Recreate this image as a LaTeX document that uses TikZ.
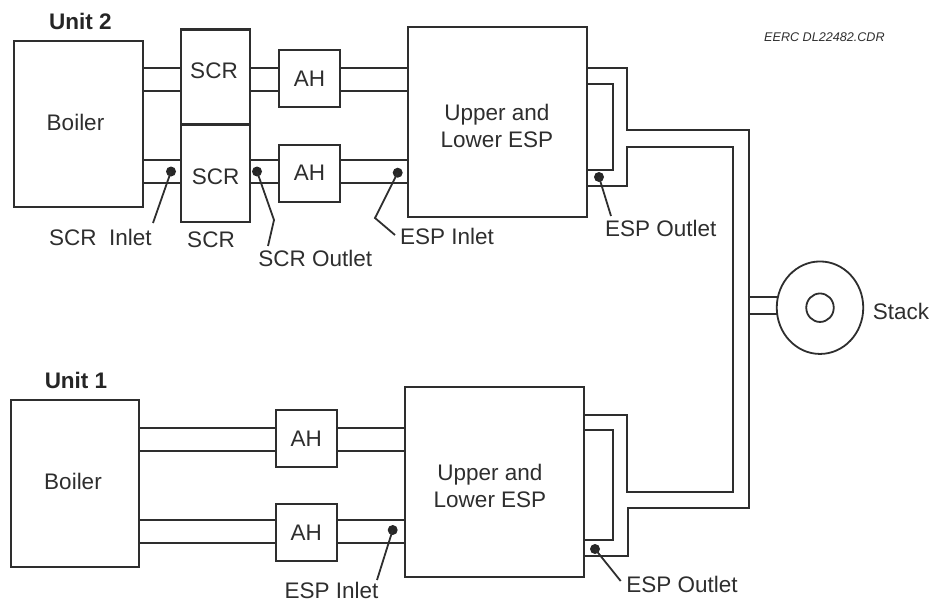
\documentclass[tikz,border=0pt]{standalone}
\usepackage{fontspec}
\usetikzlibrary{shapes.geometric}
\setmainfont{Liberation Sans}
\definecolor{ink}{HTML}{2E2E2E}
\tikzset{
  plant/.style={draw=ink,line width=2.1pt,fill=white,inner sep=0pt,outer sep=0pt,text=ink,font=\fontsize{22.5}{27}\selectfont},
  duct/.style={draw=ink,line width=2pt,line join=miter},
  lead/.style={draw=ink,line width=1.8pt},
  probe/.style={circle,fill=ink!85!black,inner sep=0pt,minimum size=10pt,outer sep=0pt},
  lbl/.style={text=ink,inner sep=0pt,font=\fontsize{22.5}{27}\selectfont,align=center},
  unitlbl/.style={text=ink!80!black,inner sep=0pt,font=\fontsize{22.5}{27}\selectfont\bfseries},
  ref/.style={text=ink,inner sep=0pt,font=\fontsize{12.6}{15}\selectfont\itshape}
}
\begin{document}
\begin{tikzpicture}[x=1pt,y=-1pt]
\useasboundingbox (0,0) rectangle (932,602);
% y levels
\coordinate (ua) at (0,68.5); \coordinate (ub) at (0,91.5);
\coordinate (uc) at (0,160); \coordinate (ud) at (0,182.5);
\coordinate (la) at (0,428.3); \coordinate (lb) at (0,451.3);
\coordinate (lc) at (0,520); \coordinate (ld) at (0,542.5);
% boxes
\node[plant,minimum width=128.5pt,minimum height=166pt] (boilerB) at (78.3,124) {};
\node[plant,minimum width=69pt,minimum height=95pt] (scrA) at (215.5,77) {};
\node[plant,minimum width=69pt,minimum height=97.5pt] (scrB) at (215.5,173.2) {};
\node[plant,minimum width=61pt,minimum height=57pt] (ahA) at (309.5,78.5) {AH};
\node[plant,minimum width=61pt,minimum height=57pt] (ahB) at (309.5,173.2) {AH};
\node[plant,minimum width=179pt,minimum height=190pt] (espB) at (497.6,122) {};
\node[plant,minimum width=128.5pt,minimum height=166.5pt] (boilerA) at (75,483.3) {};
\node[plant,minimum width=61pt,minimum height=56.7pt] (ahC) at (306.2,438.3) {AH};
\node[plant,minimum width=61pt,minimum height=56.7pt] (ahD) at (306.2,532.6) {AH};
\node[plant,minimum width=179.5pt,minimum height=190.5pt] (espA) at (494.6,482) {};
\node[plant,ellipse,minimum width=86.5pt,minimum height=92.5pt,line width=1.8pt] (stack) at (820,307.7) {};
\node[plant,ellipse,minimum width=27.5pt,minimum height=28.5pt,line width=1.8pt] (flue) at (820,307.7) {};
% unit 2 horizontal ducts
\foreach \lev in {ua,ub}{
  \draw[duct] (boilerB.east |- \lev) -- (scrA.west |- \lev);
  \draw[duct] (scrA.east |- \lev) -- (ahA.west |- \lev);
  \draw[duct] (ahA.east |- \lev) -- (espB.west |- \lev);
}
\foreach \lev in {uc,ud}{
  \draw[duct] (boilerB.east |- \lev) -- (scrB.west |- \lev);
  \draw[duct] (scrB.east |- \lev) -- (ahB.west |- \lev);
  \draw[duct] (ahB.east |- \lev) -- (espB.west |- \lev);
}
% unit 1 horizontal ducts
\foreach \lev in {la,lb}{
  \draw[duct] (boilerA.east |- \lev) -- (ahC.west |- \lev);
  \draw[duct] (ahC.east |- \lev) -- (espA.west |- \lev);
}
\foreach \lev in {lc,ld}{
  \draw[duct] (boilerA.east |- \lev) -- (ahD.west |- \lev);
  \draw[duct] (ahD.east |- \lev) -- (espA.west |- \lev);
}
% outlet ducts to the stack
\coordinate (o1) at (0,68); \coordinate (o2) at (0,84.3); \coordinate (o3) at (0,170); \coordinate (o4) at (0,185.7);
\coordinate (p1) at (0,414.7); \coordinate (p2) at (0,430); \coordinate (p3) at (0,540); \coordinate (p4) at (0,555.7);
\draw[duct] (espB.east |- o1) -| (627.3,130) -| (749,507.7) -| (628,555.7) -- (espA.east |- p4);
\draw[duct] (espB.east |- o4) -| (627.3,147.3) -| (733.3,492) -| (627.3,414.7) -- (espA.east |- p1);
\draw[duct] (espB.east |- o2) -| (613.3,170) -- (espB.east |- o3);
\draw[duct] (espA.east |- p2) -| (612.7,540) -- (espA.east |- p3);
\coordinate (s1) at (749,297); \coordinate (s2) at (749,314);
\draw[duct] (s1) -- (s1 -| stack.west);
\draw[duct] (s2) -- (s2 -| stack.west);
% labels
\node[unitlbl] (titleB) at (80.5,21) {Unit 2};
\node[unitlbl] (titleA) at (76,380) {Unit 1};
\node[lbl] (tBoilerB) at (75.5,122) {Boiler};
\node[lbl] (tBoilerA) at (73,481) {Boiler};
\node[lbl] (tScrA) at (214,71) {SCR};
\node[lbl] (tScrB) at (215.7,176.7) {SCR};
\node[lbl] (capScr) at (211,239.3) {SCR};
\node[lbl] (tEspB) at (497,126) {Upper and\\Lower ESP};
\node[lbl] (tEspA) at (490,486) {Upper and\\Lower ESP};
\node[lbl] (tStack) at (901,311) {Stack};
\node[lbl] (tScrIn) at (100.5,237) {SCR\ \ Inlet};
\node[lbl] (tScrOut) at (315.3,258.7) {SCR Outlet};
\node[lbl,anchor=west] (tEspInB) at (400,236) {ESP Inlet};
\node[lbl] (tEspOutB) at (660.8,228) {ESP Outlet};
\node[lbl] (tEspInA) at (331.5,590) {ESP Inlet};
\node[lbl] (tEspOutA) at (682,584) {ESP Outlet};
\node[ref,anchor=west] (tRef) at (764,37) {EERC DL22482.CDR};
% sampling points and leaders
\node[probe] (d1) at (171,171.5) {};
\node[probe] (d2) at (257,171.5) {};
\node[probe] (d3) at (397.7,172.7) {};
\node[probe] (d4) at (599,177) {};
\node[probe] (d5) at (392.7,530) {};
\node[probe] (d6) at (595,549) {};
\draw[lead] (d1.center) -- (153,223);
\draw[lead] (d2.center) -- (274,220) -- (268,246);
\draw[lead] (d3.center) -- (375,218) -- (395,235);
\draw[lead] (d4.center) -- (611,216);
\draw[lead] (d5.center) -- (377,580);
\draw[lead] (d6.center) -- (620.7,581);
\end{tikzpicture}
\end{document}
